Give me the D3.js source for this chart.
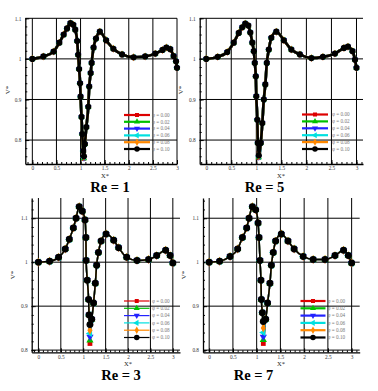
<!DOCTYPE html>
<html>
<head>
<meta charset="utf-8">
<script src="https://cdn.jsdelivr.net/npm/d3@7"></script>
<style>
  body { margin: 0; background: #fff; }
  svg { display: block; font-family: "Liberation Serif", "Times New Roman", serif; }
</style>
</head>
<body>
<div id="chart"></div>
<script>
const W = 378, H = 391;

// tick values / labels
const xTicks = [0, 0.5, 1, 1.5, 2, 2.5, 3];
const xTickLabels = ["0", "0.5", "1", "1.5", "2", "2.5", "3"];
const yTicks = [0.8, 0.9, 1, 1.1];
const yTickLabels = ["0.8", "0.9", "1", "1.1"];

const phiLabels = ["φ = 0.00", "φ = 0.02", "φ = 0.04", "φ = 0.06", "φ = 0.08", "φ = 0.10"];
const seriesColors = ["#dd0000", "#00c000", "#2222ff", "#00e0e0", "#ff8800", "#000000"];

// Re = 1 (phi = 0.10 curve) and the dip minimum of each phi series
const re1X = [0, 0.23, 0.44, 0.56, 0.65, 0.72, 0.79, 0.85, 0.89, 0.93, 0.95, 0.97, 0.99, 1.0, 1.02, 1.035, 1.055, 1.07, 1.09, 1.12, 1.16, 1.18, 1.21, 1.23, 1.27, 1.32, 1.4, 1.53, 1.68, 1.86, 2.1, 2.34, 2.55, 2.7, 2.78, 2.86, 2.93, 2.98, 3.0];
const re1V = [1.0, 1.006, 1.018, 1.04, 1.06, 1.075, 1.088, 1.084, 1.072, 1.044, 1.01, 0.975, 0.94, 0.907, 0.857, 0.815, 0.773, 0.76, 0.79, 0.832, 0.882, 0.932, 0.965, 0.99, 1.028, 1.05, 1.067, 1.046, 1.025, 1.011, 1.004, 1.006, 1.013, 1.022, 1.028, 1.024, 1.007, 0.994, 0.978];
const re1Min = [0.754, 0.755, 0.756, 0.757, 0.758, 0.76];

// Re = 5
const re5X = [0, 0.23, 0.42, 0.55, 0.65, 0.72, 0.78, 0.84, 0.88, 0.92, 0.95, 0.97, 0.99, 1.0, 1.02, 1.03, 1.05, 1.09, 1.12, 1.15, 1.18, 1.21, 1.25, 1.3, 1.4, 1.55, 1.7, 1.87, 2.1, 2.33, 2.57, 2.75, 2.83, 2.92, 2.97, 3.0];
const re5V = [1.0, 1.005, 1.017, 1.04, 1.064, 1.078, 1.087, 1.082, 1.065, 1.04, 1.019, 0.99, 0.957, 0.908, 0.85, 0.793, 0.762, 0.793, 0.842, 0.9, 0.937, 0.99, 1.023, 1.052, 1.067, 1.046, 1.023, 1.011, 1.002, 1.005, 1.013, 1.027, 1.03, 1.019, 0.998, 0.978];
const re5Min = [0.756, 0.757, 0.758, 0.759, 0.76, 0.762];

// Re = 3
const re3X = [0, 0.25, 0.45, 0.6, 0.69, 0.78, 0.84, 0.91, 0.98, 1.04, 1.06, 1.065, 1.09, 1.12, 1.13, 1.15, 1.19, 1.23, 1.27, 1.3, 1.34, 1.4, 1.51, 1.68, 1.79, 1.97, 2.2, 2.46, 2.64, 2.84, 2.94, 3.0];
const re3V = [1.0, 1.002, 1.011, 1.03, 1.052, 1.078, 1.1, 1.126, 1.116, 1.096, 1.056, 1.004, 0.959, 0.915, 0.88, 0.858, 0.87, 0.907, 0.952, 0.993, 1.022, 1.048, 1.064, 1.05, 1.033, 1.011, 1.004, 1.006, 1.015, 1.027, 1.015, 0.998];
const re3Min = [0.815, 0.822, 0.83, 0.838, 0.845, 0.858];

// Re = 7
const re7X = [0, 0.22, 0.44, 0.6, 0.7, 0.79, 0.84, 0.91, 0.98, 1.03, 1.05, 1.07, 1.09, 1.1, 1.12, 1.14, 1.19, 1.23, 1.28, 1.31, 1.35, 1.4, 1.52, 1.66, 1.79, 1.98, 2.19, 2.44, 2.65, 2.83, 2.93, 3.0];
const re7V = [1.0, 1.002, 1.013, 1.03, 1.056, 1.078, 1.1, 1.126, 1.119, 1.089, 1.056, 1.004, 0.959, 0.915, 0.885, 0.865, 0.87, 0.907, 0.952, 0.993, 1.022, 1.048, 1.064, 1.048, 1.03, 1.013, 1.006, 1.006, 1.015, 1.027, 1.015, 0.998];
const re7Min = [0.815, 0.823, 0.83, 0.84, 0.85, 0.865];

const markerTypes = [
  { type: d3.symbolSquare, rot: 0 },
  { type: d3.symbolTriangle, rot: 0 },
  { type: d3.symbolTriangle, rot: 180 },
  { type: d3.symbolTriangle, rot: -90 },
  { type: d3.symbolDiamond, rot: 0 },
  { type: d3.symbolCircle, rot: 0 }
];

const panels = [
  { title: "Re = 1", xs: re1X, vs: re1V, mins: re1Min,
    xDom: [-0.146, 3.0], xRange: [25.3, 177], yDom: [0.741, 1.1], yRange: [164, 18.3],
    titlePos: [110, 192], yLab: [10, 90], xLab: [105, 177.5], leg: [124, 150, 115, 6.8, 152],
    lw: 2.6, ms: 30, thickLegend: 2.2 },
  { title: "Re = 5", xs: re5X, vs: re5V, mins: re5Min,
    xDom: [-0.13, 3.13], xRange: [199.7, 363], yDom: [0.741, 1.1], yRange: [164, 18.3],
    titlePos: [264.5, 192], yLab: [183, 90], xLab: [281, 177.5], leg: [302, 328, 114.5, 6.9, 332],
    lw: 2.6, ms: 30, thickLegend: 2.2 },
  { title: "Re = 3", xs: re3X, vs: re3V, mins: re3Min,
    xDom: [-0.15, 3.16], xRange: [31.7, 180], yDom: [0.795, 1.146], yRange: [352.3, 198],
    titlePos: [121, 380], yLab: [15, 275], xLab: [128, 366], leg: [124, 149.5, 301, 7.3, 152],
    lw: 1.5, ms: 38, thickLegend: 1.2 },
  { title: "Re = 7", xs: re7X, vs: re7V, mins: re7Min,
    xDom: [-0.13, 3.17], xRange: [203, 359.7], yDom: [0.795, 1.146], yRange: [352.3, 198],
    titlePos: [253.5, 380], yLab: [186, 275], xLab: [281, 366], leg: [300.5, 325.5, 301, 7.3, 327.5],
    lw: 1.5, ms: 38, thickLegend: 2.2 }
];

const svg = d3.select("#chart").append("svg")
  .attr("width", W).attr("height", H);

function seriesPoints(p, k) {
  // same curve for every phi, only the dip minimum differs
  const iMin = d3.minIndex(p.vs);
  return p.xs.map((x, i) => ({ x: x, v: i === iMin ? p.mins[k] : p.vs[i] }));
}

function drawPanel(p) {
  const x = d3.scaleLinear().domain(p.xDom).range(p.xRange);
  const y = d3.scaleLinear().domain(p.yDom).range(p.yRange);
  const g = svg.append("g");
  const left = p.xRange[0], right = p.xRange[1];
  const top = p.yRange[1], bottom = p.yRange[0];

  // grid
  g.append("g").selectAll("line").data(xTicks).join("line")
    .attr("x1", d => x(d)).attr("x2", d => x(d))
    .attr("y1", top).attr("y2", bottom)
    .attr("stroke", "#000").attr("stroke-width", 1);
  g.append("g").selectAll("line").data(yTicks).join("line")
    .attr("x1", left).attr("x2", right)
    .attr("y1", d => y(d)).attr("y2", d => y(d))
    .attr("stroke", "#000").attr("stroke-width", 1);

  // minor ticks
  const xMinor = d3.range(-1, 32).map(i => i / 10)
    .filter(d => d >= p.xDom[0] && d <= p.xDom[1]);
  g.append("g").attr("transform", `translate(0,${bottom})`)
    .call(d3.axisBottom(x).tickValues(xMinor).tickSize(-2).tickSizeOuter(0).tickFormat(""))
    .call(a => a.select(".domain").remove());
  const yMinor = d3.range(38, 58).map(i => i / 50)
    .filter(d => d >= p.yDom[0] && d <= p.yDom[1]);
  g.append("g").attr("transform", `translate(${left},0)`)
    .call(d3.axisLeft(y).tickValues(yMinor).tickSize(-2).tickSizeOuter(0).tickFormat(""))
    .call(a => a.select(".domain").remove());

  // major axes
  const xa = g.append("g").attr("transform", `translate(0,${bottom})`)
    .call(d3.axisBottom(x).tickValues(xTicks).tickSize(-4).tickSizeOuter(0).tickPadding(2.5)
      .tickFormat((d, i) => xTickLabels[i]));
  const ya = g.append("g").attr("transform", `translate(${left},0)`)
    .call(d3.axisLeft(y).tickValues(yTicks).tickSize(-4).tickSizeOuter(0).tickPadding(4)
      .tickFormat((d, i) => yTickLabels[i]));
  [xa, ya].forEach(a => {
    a.attr("font-family", null).attr("font-size", 5.3);
    a.select(".domain").attr("stroke-width", 1.3);
    a.selectAll("text").attr("fill", "#333");
  });

  // series, black (phi = 0.10) on top
  const line = d3.line().x(d => x(d.x)).y(d => y(d.v)).curve(d3.curveMonotoneX);
  seriesColors.forEach((c, k) => {
    const pts = seriesPoints(p, k);
    const isBlack = k === seriesColors.length - 1;
    g.append("path").datum(pts)
      .attr("fill", "none").attr("stroke", c)
      .attr("stroke-width", p.lw).attr("d", line);
    const m = markerTypes[k];
    g.append("g").selectAll("path").data(pts).join("path")
      .attr("transform", d => `translate(${x(d.x)},${y(d.v)}) rotate(${m.rot})`)
      .attr("d", d3.symbol().type(m.type).size(isBlack ? p.ms : p.ms * 0.6))
      .attr("fill", c);
  });

  // legend
  const [lx0, lx1, ly0, ldy, ltx] = p.leg;
  phiLabels.forEach((lab, k) => {
    const yy = ly0 + k * ldy;
    const m = markerTypes[k];
    g.append("line").attr("x1", lx0).attr("x2", lx1).attr("y1", yy).attr("y2", yy)
      .attr("stroke", seriesColors[k]).attr("stroke-width", p.thickLegend);
    g.append("path")
      .attr("transform", `translate(${(lx0 + lx1) / 2},${yy}) rotate(${m.rot})`)
      .attr("d", d3.symbol().type(m.type).size(k === 5 ? 24 : 16))
      .attr("fill", seriesColors[k]);
    g.append("text").attr("x", ltx).attr("y", yy + 1.8)
      .attr("font-size", 5.2).attr("fill", "#777").text(lab);
  });

  // axis titles
  g.append("text").attr("x", p.xLab[0]).attr("y", p.xLab[1])
    .attr("text-anchor", "middle").attr("font-size", 6.5).attr("fill", "#222").text("X*");
  g.append("text")
    .attr("transform", `translate(${p.yLab[0]},${p.yLab[1]}) rotate(-90)`)
    .attr("text-anchor", "middle").attr("font-size", 7).attr("fill", "#222").text("V*");

  g.append("text").attr("x", p.titlePos[0]).attr("y", p.titlePos[1])
    .attr("text-anchor", "middle").attr("font-size", 14.5).attr("font-weight", "bold")
    .attr("fill", "#000").text(p.title);
}

panels.forEach(drawPanel);
</script>
</body>
</html>
